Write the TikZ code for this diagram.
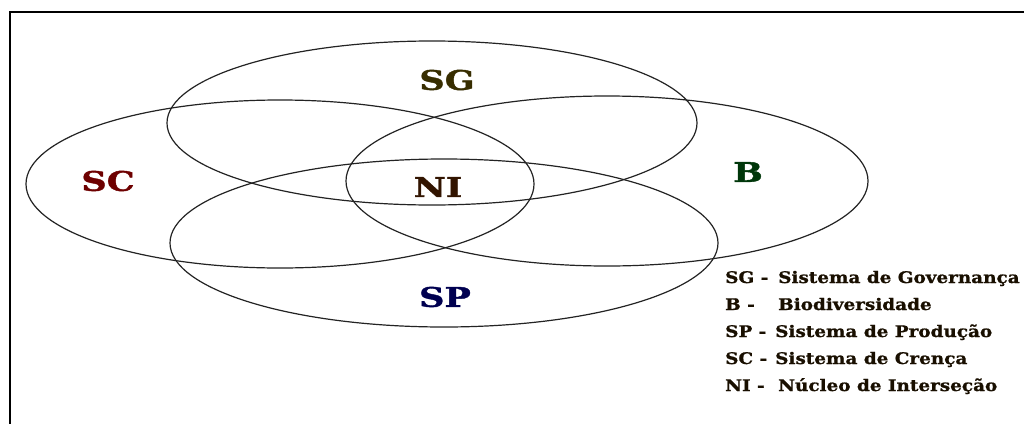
\documentclass[tikz,border=0pt]{standalone}
\usepackage{fontspec}
\setmainfont{DejaVu Serif}
\newfontfamily\lblfont[FakeStretch=1.3,FakeBold=1.5]{DejaVu Serif Bold}
\newfontfamily\legfont[FakeStretch=1.15,FakeBold=1]{DejaVu Serif Bold}
\definecolor{sgcol}{RGB}{55,45,0}
\definecolor{sccol}{RGB}{110,0,0}
\definecolor{bcol}{RGB}{0,55,10}
\definecolor{spcol}{RGB}{0,0,80}
\definecolor{nicol}{RGB}{50,20,0}
\definecolor{legcol}{RGB}{25,15,0}
\definecolor{linecol}{RGB}{35,35,35}
\begin{document}
\begin{tikzpicture}[x=1pt,y=-1pt,
  venn/.style={draw=linecol,line width=1.2pt},
  biglbl/.style={font=\lblfont\fontsize{27}{30}\selectfont,inner sep=0pt},
  legabbr/.style={font=\legfont\fontsize{16}{19}\selectfont,text=legcol,anchor=base west,inner sep=0pt},
  legtext/.style={font=\legfont\fontsize{16}{19}\selectfont,text=legcol,anchor=base west,inner sep=0pt}]
\useasboundingbox (0,0) rectangle (1024,423);
\fill[white] (0,0) rectangle (1024,423);
% frame (top and left sides)
\coordinate (fbl) at (10,423);
\coordinate (ftl) at (10,12);
\coordinate (ftr) at (1024,12);
\draw[line width=2.5pt,line cap=rect] (fbl) -- (ftl) -- (ftr);
% ellipse centres
\coordinate (csg) at (432,123);
\coordinate (csc) at (280,184);
\coordinate (cb) at (607,181);
\coordinate (csp) at (444,243);
\draw[venn] (csg) ellipse [x radius=265, y radius=82];
\draw[venn] (csc) ellipse [x radius=254, y radius=84];
\draw[venn] (cb) ellipse [x radius=261, y radius=85];
\draw[venn] (csp) ellipse [x radius=274, y radius=84];
% labels
\node[biglbl,text=sgcol] (sg) at (447,80) {SG};
\node[biglbl,text=sccol] (sc) at (108,181) {SC};
\node[biglbl,text=bcol] (b) at (748,172) {B};
\node[biglbl,text=spcol] (sp) at (445,297) {SP};
\node[biglbl,text=nicol] (ni) at (438,187) {NI};
% legend
\node[legabbr] (l1a) at (725,283) {SG -};
\node[legtext] (l1b) at (778,283) {Sistema de Governança};
\node[legabbr] (l2a) at (725,310) {B -};
\node[legtext] (l2b) at (778,310) {Biodiversidade};
\node[legabbr] (l3a) at (725,337) {SP -};
\node[legtext] (l3b) at (775,337) {Sistema de Produção};
\node[legabbr] (l4a) at (725,364) {SC -};
\node[legtext] (l4b) at (775,364) {Sistema de Crença};
\node[legabbr] (l5a) at (725,391) {NI -};
\node[legtext] (l5b) at (778,391) {Núcleo de Interseção};
\end{tikzpicture}
\end{document}
